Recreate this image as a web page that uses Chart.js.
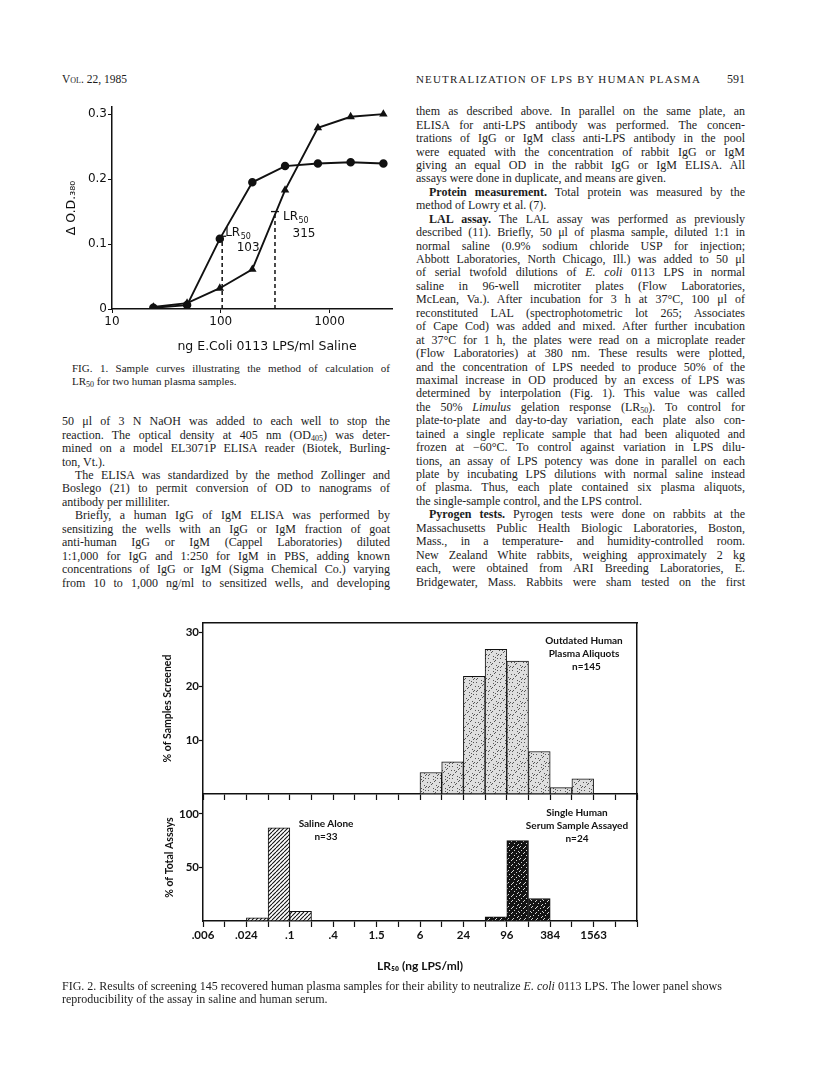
<!DOCTYPE html>
<html>
<head>
<meta charset="utf-8">
<script src="https://cdn.jsdelivr.net/npm/chart.js@4.4.0/dist/chart.umd.min.js"></script>
<style>
html, body { margin: 0; padding: 0; background: #fff; }
body { position: relative; width: 816px; height: 1091px; overflow: hidden; font-family: 'Liberation Serif', 'Times New Roman', serif; color: #1c1c1c; }
.hdr { position: absolute; font-size: 11.5px; line-height: 14px; white-space: nowrap; }
.col { position: absolute; }
.col div { height: 13.45px; line-height: 13.45px; font-size: 12px; white-space: nowrap; text-align: justify; text-align-last: justify; box-sizing: border-box; }
.col div.e { text-align-last: left; }
.col div.i { padding-left: 13px; }
.cap { position: absolute; }
.cap div { white-space: nowrap; box-sizing: border-box; }
.cap div.j { text-align: justify; text-align-last: justify; }
sub { font-size: 8px; line-height: 0; vertical-align: -2px; }
.chartbox { position: absolute; }
.note { position: absolute; font-family: Lato, sans-serif; font-weight: bold; font-size: 10px; line-height: 13.2px; text-align: center; width: 200px; color: #111; white-space: nowrap; }
</style>
</head>
<body>

<div class="hdr" style="left:62px; top:72px;">V<span style="font-variant:small-caps;">ol.</span> 22, 1985</div>
<div class="hdr" style="left:416px; top:72px; font-size:11px; letter-spacing:1.15px;">NEUTRALIZATION OF LPS BY HUMAN PLASMA</div>
<div class="hdr" style="left:705px; top:72px; width:40px; text-align:right; font-size:12px;">591</div>

<div class="chartbox" style="left:40px; top:95px; width:360px; height:265px;"><canvas id="fig1"></canvas></div>

<div class="cap" style="left:72px; top:361.5px; width:318px; font-size:11px; line-height:13px;">
  <div class="j">FIG. 1. Sample curves illustrating the method of calculation of</div>
  <div>LR<sub>50</sub> for two human plasma samples.</div>
</div>

<div class="col" style="left:62px; top:415.3px; width:328px;">
  <div>50 μl of 3 N NaOH was added to each well to stop the</div>
  <div>reaction. The optical density at 405 nm (OD<sub>405</sub>) was deter-</div>
  <div>mined on a model EL3071P ELISA reader (Biotek, Burling-</div>
  <div class="e">ton, Vt.).</div>
  <div class="i">The ELISA was standardized by the method Zollinger and</div>
  <div>Boslego (21) to permit conversion of OD to nanograms of</div>
  <div class="e">antibody per milliliter.</div>
  <div class="i">Briefly, a human IgG of IgM ELISA was performed by</div>
  <div>sensitizing the wells with an IgG or IgM fraction of goat</div>
  <div>anti-human IgG or IgM (Cappel Laboratories) diluted</div>
  <div>1:1,000 for IgG and 1:250 for IgM in PBS, adding known</div>
  <div>concentrations of IgG or IgM (Sigma Chemical Co.) varying</div>
  <div>from 10 to 1,000 ng/ml to sensitized wells, and developing</div>
</div>

<div class="col" style="left:416px; top:105.2px; width:329px;">
  <div>them as described above. In parallel on the same plate, an</div>
  <div>ELISA for anti-LPS antibody was performed. The concen-</div>
  <div>trations of IgG or IgM class anti-LPS antibody in the pool</div>
  <div>were equated with the concentration of rabbit IgG or IgM</div>
  <div>giving an equal OD in the rabbit IgG or IgM ELISA. All</div>
  <div class="e">assays were done in duplicate, and means are given.</div>
  <div class="i"><b>Protein measurement.</b> Total protein was measured by the</div>
  <div class="e">method of Lowry et al. (7).</div>
  <div class="i"><b>LAL assay.</b> The LAL assay was performed as previously</div>
  <div>described (11). Briefly, 50 μl of plasma sample, diluted 1:1 in</div>
  <div>normal saline (0.9% sodium chloride USP for injection;</div>
  <div>Abbott Laboratories, North Chicago, Ill.) was added to 50 μl</div>
  <div>of serial twofold dilutions of <i>E. coli</i> 0113 LPS in normal</div>
  <div>saline in 96-well microtiter plates (Flow Laboratories,</div>
  <div>McLean, Va.). After incubation for 3 h at 37°C, 100 μl of</div>
  <div>reconstituted LAL (spectrophotometric lot 265; Associates</div>
  <div>of Cape Cod) was added and mixed. After further incubation</div>
  <div>at 37°C for 1 h, the plates were read on a microplate reader</div>
  <div>(Flow Laboratories) at 380 nm. These results were plotted,</div>
  <div>and the concentration of LPS needed to produce 50% of the</div>
  <div>maximal increase in OD produced by an excess of LPS was</div>
  <div>determined by interpolation (Fig. 1). This value was called</div>
  <div>the 50% <i>Limulus</i> gelation response (LR<sub>50</sub>). To control for</div>
  <div>plate-to-plate and day-to-day variation, each plate also con-</div>
  <div>tained a single replicate sample that had been aliquoted and</div>
  <div>frozen at −60°C. To control against variation in LPS dilu-</div>
  <div>tions, an assay of LPS potency was done in parallel on each</div>
  <div>plate by incubating LPS dilutions with normal saline instead</div>
  <div>of plasma. Thus, each plate contained six plasma aliquots,</div>
  <div class="e">the single-sample control, and the LPS control.</div>
  <div class="i"><b>Pyrogen tests.</b> Pyrogen tests were done on rabbits at the</div>
  <div>Massachusetts Public Health Biologic Laboratories, Boston,</div>
  <div>Mass., in a temperature- and humidity-controlled room.</div>
  <div>New Zealand White rabbits, weighing approximately 2 kg</div>
  <div>each, were obtained from ARI Breeding Laboratories, E.</div>
  <div>Bridgewater, Mass. Rabbits were sham tested on the first</div>
</div>

<div class="chartbox" style="left:140px; top:610px; width:510px; height:195px;"><canvas id="fig2top"></canvas></div>
<div class="chartbox" style="left:140px; top:780px; width:510px; height:200px;"><canvas id="fig2bottom"></canvas></div>

<div class="note" style="left:484px; top:634px;">Outdated Human<br>Plasma Aliquots<br>&nbsp;&nbsp;n=145</div>
<div class="note" style="left:226px; top:816.7px; line-height:13.4px;">Saline Alone<br>n=33</div>
<div class="note" style="left:477px; top:805.8px;">Single Human<br>Serum Sample Assayed<br>n=24</div>

<div class="cap" style="left:62px; top:979.5px; width:700px; font-size:12px; line-height:13px;">
  <div>FIG. 2. Results of screening 145 recovered human plasma samples for their ability to neutralize <i>E. coli</i> 0113 LPS. The lower panel shows</div>
  <div>reproducibility of the assay in saline and human serum.</div>
</div>

<script>
// ---- Fig. 1 data (ng LPS/ml vs delta OD380) ----
const lpsDose = [24, 49, 98, 195, 390, 781, 1563, 3125];
const plasmaCircle = [0.002, 0.006, 0.108, 0.195, 0.220, 0.224, 0.226, 0.224];
const plasmaTriangle = [0.003, 0.009, 0.032, 0.061, 0.183, 0.279, 0.296, 0.300];
const lr50Dose = [103, 315];
const lr50Level = [0.112, 0.150];
const fig1XTicks = [10, 100, 1000];
const fig1YTicks = [0, 0.1, 0.2, 0.3];
const fig1XTitle = 'ng E.Coli 0113 LPS/ml Saline';

// ---- Fig. 2 data (LR50 histogram, twofold bins) ----
const binEdges = ['.006', '.012', '.024', '.05', '.1', '.2', '.4', '.8', '1.5', '3', '6', '12', '24', '48', '96', '192', '384', '768', '1563', '3125', '6250'];
const edgeLabels = ['.006', '', '.024', '', '.1', '', '.4', '', '1.5', '', '6', '', '24', '', '96', '', '384', '', '1563', '', ''];
const plasmaBins = ['6', '12', '24', '48', '96', '192', '384', '768'];
const plasmaPct = [4.0, 6.0, 21.9, 26.9, 24.7, 7.9, 1.2, 2.8];
const salineBins = ['.024', '.05', '.1'];
const salinePct = [3, 87, 9];
const serumBins = ['48', '96', '192'];
const serumPct = [4, 75, 21];
const upperYTicks = [10, 20, 30];
const lowerYTicks = [50, 100];

Chart.defaults.animation = false;
Chart.defaults.color = '#111';
Chart.defaults.font.family = 'Lato, sans-serif';
Chart.defaults.plugins.legend.display = false;
Chart.defaults.plugins.tooltip.enabled = false;

const ink = '#111';

// fill textures for the bars
function makePattern(kind) {
    const c = document.createElement('canvas');
    const n = kind === 'hatch' ? 4 : 12;
    c.width = n; c.height = n;
    const g = c.getContext('2d');
    if (kind === 'hatch') {
        g.fillStyle = '#fff';
        g.fillRect(0, 0, n, n);
        g.strokeStyle = ink;
        g.lineWidth = 1.1;
        [-n, 0, n].forEach(x0 => {
            g.beginPath(); g.moveTo(x0, n); g.lineTo(x0 + n, 0); g.stroke();
        });
    } else if (kind === 'stipple') {
        g.fillStyle = '#dedede';
        g.fillRect(0, 0, n, n);
        g.fillStyle = '#555';
        for (let i = 0; i < n; i++) for (let j = 0; j < n; j++) {
            if ((i * 7 + j * 13 + i * j * 3) % 9 === 0) g.fillRect(i, j, 1, 1);
        }
    } else {
        g.fillStyle = '#141414';
        g.fillRect(0, 0, n, n);
        g.fillStyle = '#d8d8d8';
        for (let i = 0; i < n; i++) for (let j = 0; j < n; j++) {
            if ((i * 5 + j * 11 + i * j) % 7 === 0) g.fillRect(i, j, 1, 1);
        }
    }
    return g.createPattern(c, 'repeat');
}

const toPoints = (xs, ys) => xs.map((x, i) => ({x, y: ys[i]}));
const binPoints = (bins, vals) => bins.map((b, i) => ({x: binEdges.indexOf(b) + 0.5, y: vals[i]}));
const fixedTicks = list => scale => { scale.ticks = list.map(v => ({value: v})); };

// LR50 labels next to the dashed lines, plus the x title (set a bit right of centre, as printed)
const lrLabelOffsets = [{dx: 3, dy: -3, nx: 26, ny: 12}, {dx: 8, dy: 5.5, nx: 29, ny: 22.5}];
const lrLabels = {
    id: 'lrLabels',
    afterDatasetsDraw(chart) {
        const {ctx, scales: {x, y}} = chart;
        ctx.save();
        ctx.fillStyle = ink;
        ctx.textBaseline = 'middle';
        lr50Dose.forEach((dose, i) => {
            const px = x.getPixelForValue(dose);
            const py = y.getPixelForValue(lr50Level[i]);
            const o = lrLabelOffsets[i];
            ctx.textAlign = 'left';
            ctx.font = '12px "DejaVu Sans"';
            ctx.fillText('LR', px + o.dx, py + o.dy);
            const w = ctx.measureText('LR').width;
            ctx.font = '8px "DejaVu Sans"';
            ctx.fillText('50', px + o.dx + w + 0.5, py + o.dy + 4);
            ctx.font = '12px "DejaVu Sans"';
            ctx.textAlign = 'center';
            ctx.fillText(String(dose), px + o.nx, py + o.ny);
        });
        ctx.font = '12.5px "DejaVu Sans"';
        ctx.textAlign = 'center';
        ctx.fillText(fig1XTitle, (x.left + x.right) / 2 + 15, x.bottom - 13);
        ctx.restore();
    }
};

// Fig. 1
const fig1Font = {family: '"DejaVu Sans", sans-serif', size: 12};
new Chart(document.getElementById('fig1'), {
    type: 'line',
    data: {
        datasets: [
            {
                data: toPoints(lpsDose, plasmaCircle),
                borderColor: ink, backgroundColor: ink, borderWidth: 1.9,
                pointStyle: 'circle', pointRadius: 3.3, tension: 0
            },
            {
                data: toPoints(lpsDose, plasmaTriangle),
                borderColor: ink, backgroundColor: ink, borderWidth: 1.9,
                pointStyle: 'triangle', pointRadius: 3, tension: 0
            },
            ...lr50Dose.map((dose, i) => ({
                data: [{x: dose, y: 0}, {x: dose, y: lr50Level[i]}],
                borderColor: ink, borderWidth: 1.5, borderDash: [4, 3],
                pointStyle: 'line', pointRadius: [0, 4], pointBorderWidth: 1.3,
                pointBorderColor: ink
            }))
        ]
    },
    options: {
        responsive: true,
        maintainAspectRatio: false,
        layout: {padding: {top: 12, right: 8, left: 0, bottom: 0}},
        scales: {
            x: {
                type: 'logarithmic', min: 10, max: 3750,
                afterBuildTicks: fixedTicks(fig1XTicks),
                afterFit: s => { s.height = 51; },
                grid: {drawOnChartArea: false, tickLength: 4, color: ink},
                border: {color: ink, width: 1.5},
                ticks: {font: fig1Font, padding: 2, maxRotation: 0, autoSkip: false, callback: v => String(v)}
            },
            y: {
                min: 0, max: 0.311,
                afterBuildTicks: fixedTicks(fig1YTicks),
                afterFit: s => { s.width = 72; },
                grid: {drawOnChartArea: false, tickLength: 4, color: ink},
                border: {color: ink, width: 1.5},
                ticks: {font: fig1Font, padding: 1, callback: v => v === 0 ? '0' : v.toFixed(1)},
                title: {display: true, text: 'Δ O.D.₃₈₀', font: {family: fig1Font.family, size: 12.5}, padding: {top: 24}}
            }
        }
    },
    plugins: [lrLabels]
});

// Fig. 2 shared axis pieces
const edgeTickIndex = binEdges.map((_, i) => i);
function edgeAxis(showLabels, height) {
    return {
        type: 'linear', min: 0, max: binEdges.length - 1, offset: false,
        afterBuildTicks: fixedTicks(edgeTickIndex),
        afterFit: s => { s.height = height; },
        grid: {offset: false, drawOnChartArea: false, tickLength: 6, tickWidth: 1.2, color: ink},
        border: {color: ink, width: 1.5},
        ticks: {display: showLabels, autoSkip: false, maxRotation: 0, padding: 1,
            font: {size: 11.5, weight: 'bold'}, callback: (v, i) => edgeLabels[i]}
    };
}
const frameAxis = (axis, position) => ({
    type: 'linear', axis, position, offset: false,
    afterFit: s => { if (axis === 'x') s.height = 0; else s.width = 0; },
    grid: {display: false, offset: false}, ticks: {display: false},
    border: {display: true, color: ink, width: 1.5}
});
function pctAxis(max, ticks, label, pad) {
    return {
        min: 0, max,
        afterBuildTicks: fixedTicks(ticks),
        afterFit: s => { s.width = 63; },
        grid: {drawOnChartArea: false, tickLength: 4, tickWidth: 1.2, color: ink},
        border: {color: ink, width: 1.5},
        ticks: {padding: 0, font: {size: 11.5, weight: 'bold'}},
        title: {display: true, text: label, font: {size: 10.5, weight: 'bold'}, padding: {top: pad}}
    };
}
const barStyle = {borderColor: ink, borderWidth: 1, borderSkipped: false, grouped: false, barPercentage: 1, categoryPercentage: 1};

// Fig. 2 upper panel: plasma aliquots
new Chart(document.getElementById('fig2top'), {
    type: 'bar',
    data: {
        datasets: [Object.assign({data: binPoints(plasmaBins, plasmaPct), backgroundColor: makePattern('stipple')}, barStyle)]
    },
    options: {
        responsive: true,
        maintainAspectRatio: false,
        layout: {padding: {top: 13, right: 13, left: 0, bottom: 0}},
        scales: {
            x: edgeAxis(false, 11),
            xFrame: frameAxis('x', 'top'),
            y: pctAxis(31.8, upperYTicks, '% of Samples Screened', 21.7),
            yFrame: frameAxis('y', 'right')
        }
    }
});

// Fig. 2 lower panel: saline and single serum sample
new Chart(document.getElementById('fig2bottom'), {
    type: 'bar',
    data: {
        datasets: [
            Object.assign({data: binPoints(salineBins, salinePct), backgroundColor: makePattern('hatch')}, barStyle),
            Object.assign({data: binPoints(serumBins, serumPct), backgroundColor: makePattern('dark')}, barStyle)
        ]
    },
    options: {
        responsive: true,
        maintainAspectRatio: false,
        layout: {padding: {top: 14, right: 13, left: 0, bottom: 0}},
        scales: {
            x: Object.assign(edgeAxis(true, 59), {
                title: {display: true, text: 'LR₅₀ (ng LPS/ml)', font: {size: 12, weight: 'bold'}, padding: {top: 0, bottom: 6.8}}
            }),
            y: pctAxis(118.5, lowerYTicks, '% of Total Assays', 23.7),
            yFrame: frameAxis('y', 'right')
        }
    }
});

// squeeze any text line that is wider than its column
document.querySelectorAll('.col div, .cap div.j').forEach(el => {
    let ls = 0;
    while (el.scrollWidth > el.clientWidth + 0.5 && ls > -1.5) {
        ls -= 0.1;
        el.style.letterSpacing = ls.toFixed(2) + 'px';
    }
});
</script>
</body>
</html>
